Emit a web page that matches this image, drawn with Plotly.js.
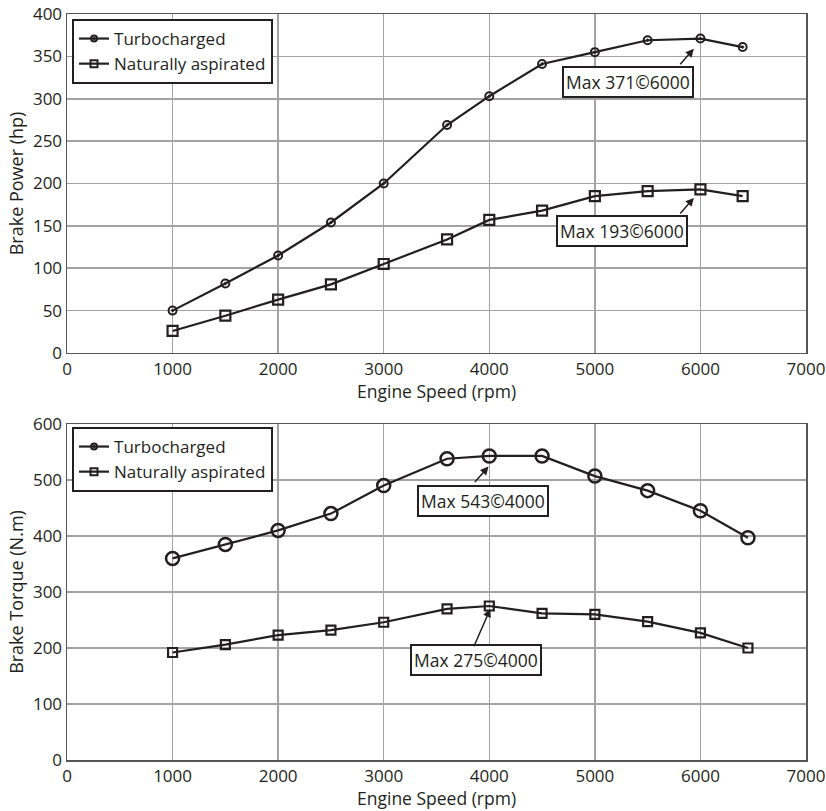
<!DOCTYPE html>
<html>
<head>
<meta charset="utf-8">
<script src="https://cdn.plot.ly/plotly-3.0.1.min.js"></script>
<style>html,body{margin:0;padding:0;background:#fff;}#chart{width:826px;height:811px;}</style>
</head>
<body>
<div id="chart"></div>
<script>
// ---- data ----
const rpmPower = [1000, 1500, 2000, 2500, 3000, 3600, 4000, 4500, 5000, 5500, 6000, 6400];
const powerTurbo = [50, 82, 115, 154, 200, 269, 303, 341, 355, 369, 371, 361];
const powerNA = [26, 44, 63, 81, 105, 134, 157, 168, 185, 191, 193, 185];

const rpmTorque = [1000, 1500, 2000, 2500, 3000, 3600, 4000, 4500, 5000, 5500, 6000, 6450];
const torqueTurbo = [360, 385, 410, 440, 490, 538, 543, 543, 507, 481, 445, 397];
const torqueNA = [192, 206, 223, 232, 246, 270, 275, 262, 260, 247, 227, 200];

const seriesNames = ['Turbocharged', 'Naturally aspirated'];
const xTicks = [0, 1000, 2000, 3000, 4000, 5000, 6000, 7000];
const powerTicks = [0, 50, 100, 150, 200, 250, 300, 350, 400];
const torqueTicks = [0, 100, 200, 300, 400, 500, 600];
const labels = ['Max 371©6000', 'Max 193©6000', 'Max 543©4000', 'Max 275©4000'];
const xTitle = 'Engine Speed (rpm)';

const ink = '#231f20';
const fontFam = '"Open Sans", "Noto Sans", sans-serif';
const fs = 17;

function line(x, y, xa, ya, sym, size, width) {
  return {
    x: x, y: y, xaxis: xa, yaxis: ya, type: 'scatter', mode: 'lines+markers',
    line: {color: ink, width: 2.2},
    marker: {symbol: sym, size: size, color: ink, line: {color: ink, width: width}},
    showlegend: false, hoverinfo: 'skip'
  };
}
function legendItem(name, sym, legend) {
  return {
    x: [null], y: [null], type: 'scatter', mode: 'lines+markers', name: name,
    xaxis: legend === 'legend' ? 'x' : 'x2', yaxis: legend === 'legend' ? 'y' : 'y2',
    legend: legend, showlegend: true,
    line: {color: ink, width: 2.2},
    marker: {symbol: sym, size: sym === 'circle-open-dot' ? 6 : 7, color: ink, line: {color: ink, width: 2}}
  };
}

const data = [
  line(rpmPower, powerTurbo, 'x', 'y', 'circle-open-dot', 8, 2),
  line(rpmPower, powerNA, 'x', 'y', 'square-open', 10, 2.2),
  line(rpmTorque, torqueTurbo, 'x2', 'y2', 'circle-open', 13, 2.5),
  line(rpmTorque, torqueNA, 'x2', 'y2', 'square-open', 9, 2.2),
  legendItem(seriesNames[0], 'circle-open-dot', 'legend'),
  legendItem(seriesNames[1], 'square-open', 'legend'),
  legendItem(seriesNames[0], 'circle-open-dot', 'legend2'),
  legendItem(seriesNames[1], 'square-open', 'legend2')
];

function xAxis(anchor) {
  return {
    anchor: anchor, domain: [0, 1], range: [0, 7000], tickvals: xTicks, ticktext: xTicks.map(String),
    showgrid: true, gridcolor: '#a3a3a3', gridwidth: 1.5, zeroline: false,
    showline: true, linecolor: '#555', linewidth: 1.5, mirror: true, ticks: '',
    tickfont: {size: fs, color: ink, family: fontFam}
  };
}
function yAxis(anchor, domain, range, ticks, title) {
  return {
    anchor: anchor, domain: domain, range: range, tickvals: ticks, ticktext: ticks.map(String),
    showgrid: true, gridcolor: '#a3a3a3', gridwidth: 1.5, zeroline: false,
    showline: true, linecolor: '#555', linewidth: 1.5, mirror: true, ticks: '',
    tickfont: {size: fs, color: ink, family: fontFam},
    title: {text: title, font: {size: 18, color: ink, family: fontFam}, standoff: 4}
  };
}

const box = (x, y, xr, yr, text) => ({
  x: x, y: y, xref: xr, yref: yr, text: text, showarrow: false,
  font: {size: 17.5, color: ink, family: fontFam},
  bgcolor: '#fff', bordercolor: ink, borderwidth: 2, borderpad: 2
});
const arrow = (x, y, xr, yr, ax, ay) => ({
  x: x, y: y, xref: xr, yref: yr, text: '', showarrow: true, ax: ax, ay: ay,
  arrowhead: 2, arrowsize: 1.1, arrowwidth: 1.5, arrowcolor: ink, standoff: 0
});
const axisTitle = (y, anchor) => ({
  x: 0.5, y: y, xref: 'paper', yref: 'paper', xanchor: 'center', yanchor: anchor,
  text: xTitle, showarrow: false, borderpad: 0, font: {size: 17.5, color: ink, family: fontFam}
});

const legendCfg = (y) => ({
  x: 0.0068, y: y, xanchor: 'left', yanchor: 'top', bgcolor: '#fff',
  bordercolor: ink, borderwidth: 2, font: {size: fs, color: ink, family: fontFam},
  tracegroupgap: 0, itemwidth: 30
});

const layout = {
  width: 826, height: 811,
  margin: {l: 67, r: 20, t: 14, b: 51},
  paper_bgcolor: '#fff', plot_bgcolor: '#fff',
  font: {family: fontFam, color: ink},
  xaxis: xAxis('y'),
  yaxis: yAxis('x', [0.5456, 1], [0, 400], powerTicks, 'Brake Power (hp)'),
  xaxis2: xAxis('y2'),
  yaxis2: yAxis('x2', [0, 0.4504], [0, 600], torqueTicks, 'Brake Torque (N.m)'),
  legend: legendCfg(0.9933),
  legend2: legendCfg(0.4464),
  annotations: [
    box(5312, 320, 'x', 'y', labels[0]),
    arrow(5938, 359, 'x', 'y', -15, 17),
    box(5256, 144, 'x', 'y', labels[1]),
    arrow(5938, 183, 'x', 'y', -15, 17),
    box(3942, 463, 'x2', 'y2', labels[2]),
    arrow(3993, 524, 'x2', 'y2', -15, 17),
    box(3876, 179, 'x2', 'y2', labels[3]),
    arrow(4010, 270, 'x2', 'y2', -17, 39),
    axisTitle(0.4946, 'middle'),
    axisTitle(-0.0684, 'bottom')
  ]
};

Plotly.newPlot('chart', data, layout, {displayModeBar: false, staticPlot: true});
</script>
</body>
</html>
